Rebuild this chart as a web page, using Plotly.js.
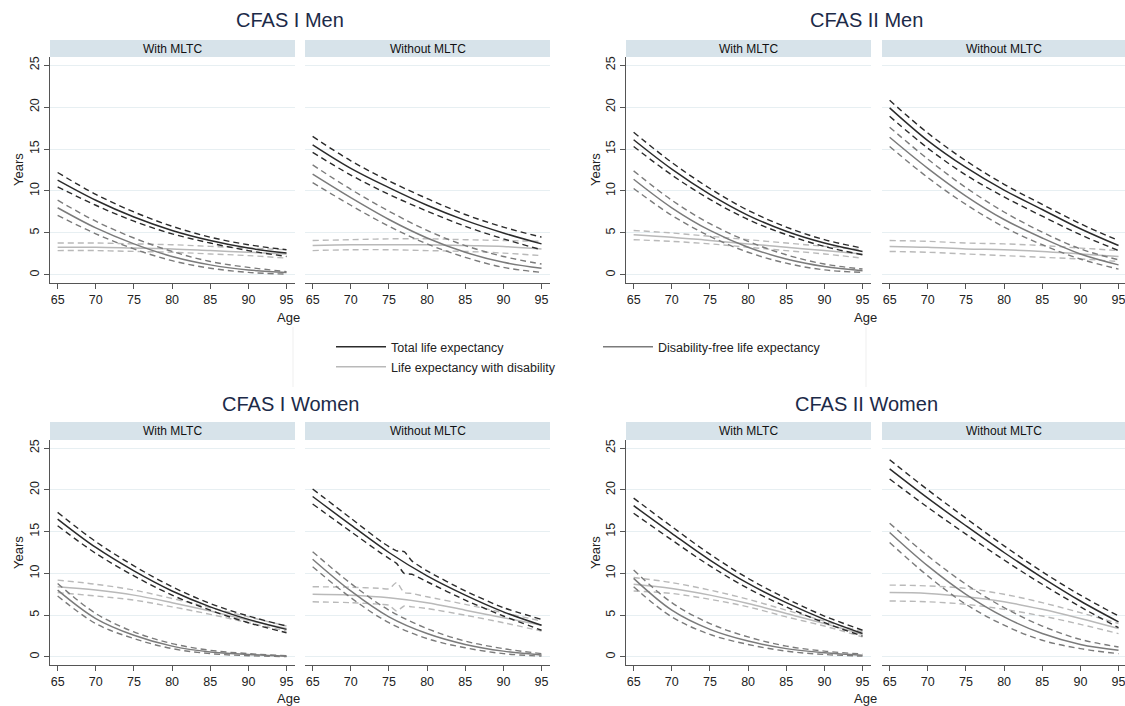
<!DOCTYPE html>
<html><head><meta charset="utf-8">
<script src="https://cdn.plot.ly/plotly-3.0.1.min.js"></script>
<style>html,body{margin:0;padding:0;background:#fff}#chart{width:1125px;height:706px}</style>
</head><body><div id="chart"></div>
<script>
// ---------- DATA ----------
const ages = [65, 70, 75, 80, 85, 90, 95];
const agesFine = [65, 70, 74, 75, 76, 77, 78, 80, 85, 90, 95];
const xTicks = [65, 70, 75, 80, 85, 90, 95];
const yTicks = [0, 5, 10, 15, 20, 25];
const groupTitles = ['CFAS I Men', 'CFAS II Men', 'CFAS I Women', 'CFAS II Women'];
const stripLabels = ['With MLTC', 'Without MLTC'];
const seriesNames = ['Total life expectancy', 'Disability-free life expectancy', 'Life expectancy with disability'];

// CFAS I Men - With MLTC
const m1With_TLE    = [11.3, 8.9, 6.9, 5.3, 4.1, 3.2, 2.6];
const m1With_TLE_hi = [12.2, 9.6, 7.5, 5.8, 4.5, 3.6, 3.0];
const m1With_TLE_lo = [10.5, 8.3, 6.4, 4.9, 3.8, 2.9, 2.2];
const m1With_DF     = [8.0, 5.6, 3.7, 2.2, 1.2, 0.6, 0.3];
const m1With_DF_hi  = [8.9, 6.4, 4.4, 2.8, 1.6, 0.9, 0.4];
const m1With_DF_lo  = [7.1, 4.9, 3.1, 1.7, 0.8, 0.3, 0.1];
const m1With_WD     = [3.3, 3.3, 3.2, 3.1, 2.9, 2.7, 2.5];
const m1With_WD_hi  = [3.8, 3.8, 3.7, 3.6, 3.4, 3.2, 3.0];
const m1With_WD_lo  = [2.9, 2.9, 2.8, 2.7, 2.5, 2.3, 2.0];
// CFAS I Men - Without MLTC
const m1Wo_TLE    = [15.5, 12.7, 10.4, 8.3, 6.5, 5.0, 3.7];
const m1Wo_TLE_hi = [16.5, 13.6, 11.2, 9.1, 7.2, 5.7, 4.5];
const m1Wo_TLE_lo = [14.6, 11.9, 9.6, 7.6, 5.8, 4.3, 3.0];
const m1Wo_DF     = [12.0, 9.2, 6.6, 4.4, 2.7, 1.5, 0.8];
const m1Wo_DF_hi  = [13.1, 10.2, 7.6, 5.3, 3.5, 2.2, 1.3];
const m1Wo_DF_lo  = [11.0, 8.3, 5.8, 3.7, 2.1, 0.9, 0.3];
const m1Wo_WD     = [3.5, 3.6, 3.6, 3.6, 3.5, 3.4, 3.1];
const m1Wo_WD_hi  = [4.1, 4.2, 4.3, 4.3, 4.2, 4.1, 4.0];
const m1Wo_WD_lo  = [2.9, 3.0, 3.0, 2.9, 2.8, 2.6, 2.3];
// CFAS II Men - With MLTC
const m2With_TLE    = [16.1, 12.6, 9.6, 7.1, 5.2, 3.8, 2.8];
const m2With_TLE_hi = [17.0, 13.4, 10.3, 7.7, 5.7, 4.2, 3.2];
const m2With_TLE_lo = [15.3, 11.9, 9.0, 6.6, 4.8, 3.4, 2.4];
const m2With_DF     = [11.4, 8.0, 5.3, 3.3, 1.9, 1.0, 0.5];
const m2With_DF_hi  = [12.4, 8.9, 6.1, 4.0, 2.4, 1.3, 0.7];
const m2With_DF_lo  = [10.3, 7.1, 4.6, 2.7, 1.4, 0.6, 0.3];
const m2With_WD     = [4.8, 4.5, 4.1, 3.7, 3.3, 2.9, 2.5];
const m2With_WD_hi  = [5.3, 5.0, 4.6, 4.2, 3.8, 3.4, 3.0];
const m2With_WD_lo  = [4.2, 4.0, 3.7, 3.3, 2.9, 2.5, 2.0];
// CFAS II Men - Without MLTC
const m2Wo_TLE    = [19.9, 16.0, 12.8, 10.1, 7.8, 5.5, 3.5];
const m2Wo_TLE_hi = [20.8, 16.9, 13.6, 10.8, 8.4, 6.1, 4.1];
const m2Wo_TLE_lo = [18.9, 15.1, 11.9, 9.3, 7.0, 4.8, 2.9];
const m2Wo_DF     = [16.4, 12.7, 9.4, 6.6, 4.4, 2.5, 1.2];
const m2Wo_DF_hi  = [17.6, 13.8, 10.4, 7.5, 5.1, 3.1, 1.8];
const m2Wo_DF_lo  = [15.3, 11.6, 8.4, 5.7, 3.6, 1.9, 0.7];
const m2Wo_WD     = [3.4, 3.3, 3.1, 3.0, 2.8, 2.5, 2.2];
const m2Wo_WD_hi  = [4.1, 4.0, 3.8, 3.7, 3.5, 3.2, 2.9];
const m2Wo_WD_lo  = [2.8, 2.7, 2.5, 2.3, 2.1, 1.9, 1.6];
// CFAS I Women - With MLTC
const w1With_TLE    = [16.5, 13.1, 10.3, 7.9, 6.0, 4.5, 3.3];
const w1With_TLE_hi = [17.3, 13.8, 10.9, 8.4, 6.4, 4.9, 3.7];
const w1With_TLE_lo = [15.7, 12.4, 9.7, 7.4, 5.6, 4.1, 2.9];
const w1With_DF     = [8.0, 4.6, 2.6, 1.3, 0.6, 0.3, 0.1];
const w1With_DF_hi  = [8.8, 5.2, 3.0, 1.6, 0.8, 0.4, 0.15];
const w1With_DF_lo  = [7.3, 4.0, 2.2, 1.0, 0.4, 0.15, 0.05];
const w1With_WD     = [8.4, 8.0, 7.4, 6.5, 5.5, 4.4, 3.4];
const w1With_WD_hi  = [9.2, 8.7, 8.0, 7.0, 5.9, 4.8, 3.7];
const w1With_WD_lo  = [7.7, 7.3, 6.8, 6.0, 5.1, 4.1, 3.1];
// CFAS I Women - Without MLTC (some CIs read on the finer agesFine grid)
const w1Wo_TLE    = [19.2, 15.8, 12.5, 9.7, 7.4, 5.4, 3.8];
const w1Wo_TLE_hi = [20.1, 16.6, 13.8, 13.2, 12.7, 12.6, 11.5, 10.3, 7.9, 5.9, 4.5];
const w1Wo_TLE_lo = [18.3, 15.0, 12.4, 11.8, 11.2, 10.0, 9.9, 9.0, 6.8, 4.9, 3.2];
const w1Wo_DF     = [11.7, 7.9, 4.8, 2.8, 1.5, 0.7, 0.25];
const w1Wo_DF_hi  = [12.6, 8.8, 5.6, 3.4, 1.9, 1.0, 0.4];
const w1Wo_DF_lo  = [10.8, 7.1, 4.1, 2.2, 1.1, 0.4, 0.1];
const w1Wo_WD     = [7.5, 7.4, 7.1, 6.5, 5.6, 4.7, 3.8];
const w1Wo_WD_hi  = [8.4, 8.35, 8.2, 8.15, 8.9, 7.7, 7.6, 7.2, 6.3, 5.3, 4.3];
const w1Wo_WD_lo  = [6.6, 6.5, 6.3, 6.2, 5.5, 6.1, 6.0, 5.8, 5.0, 4.1, 3.1];
// CFAS II Women - With MLTC
const w2With_TLE    = [18.1, 14.8, 11.6, 8.8, 6.5, 4.5, 2.8];
const w2With_TLE_hi = [19.0, 15.6, 12.3, 9.4, 7.0, 4.9, 3.2];
const w2With_TLE_lo = [17.2, 14.0, 10.9, 8.2, 6.0, 4.1, 2.5];
const w2With_DF     = [9.4, 5.6, 3.3, 1.9, 1.0, 0.5, 0.2];
const w2With_DF_hi  = [10.4, 6.5, 4.0, 2.4, 1.3, 0.7, 0.35];
const w2With_DF_lo  = [8.4, 4.8, 2.7, 1.5, 0.7, 0.3, 0.1];
const w2With_WD     = [8.7, 8.2, 7.4, 6.4, 5.2, 4.0, 2.7];
const w2With_WD_hi  = [9.5, 8.9, 8.0, 6.9, 5.6, 4.3, 3.0];
const w2With_WD_lo  = [7.9, 7.6, 6.9, 6.0, 4.8, 3.7, 2.4];
// CFAS II Women - Without MLTC
const w2Wo_TLE    = [22.5, 19.0, 15.7, 12.5, 9.5, 6.7, 4.2];
const w2Wo_TLE_hi = [23.6, 20.0, 16.6, 13.3, 10.2, 7.4, 4.9];
const w2Wo_TLE_lo = [21.3, 17.9, 14.7, 11.6, 8.7, 6.0, 3.5];
const w2Wo_DF     = [14.9, 10.9, 7.5, 4.8, 2.8, 1.5, 0.8];
const w2Wo_DF_hi  = [16.0, 12.1, 8.7, 5.9, 3.7, 2.1, 1.2];
const w2Wo_DF_lo  = [13.7, 9.7, 6.3, 3.8, 2.0, 1.0, 0.4];
const w2Wo_WD     = [7.7, 7.6, 7.2, 6.6, 5.7, 4.6, 3.4];
const w2Wo_WD_hi  = [8.6, 8.5, 8.2, 7.5, 6.5, 5.3, 4.0];
const w2Wo_WD_lo  = [6.7, 6.6, 6.3, 5.7, 4.9, 3.9, 2.8];

// ---------- FIGURE ----------
const W = 1125, H = 706;
const px = p => p / W, py = p => 1 - p / H;

const panels = [
  [m1With_TLE, m1With_TLE_hi, m1With_TLE_lo, m1With_DF, m1With_DF_hi, m1With_DF_lo, m1With_WD, m1With_WD_hi, m1With_WD_lo],
  [m1Wo_TLE, m1Wo_TLE_hi, m1Wo_TLE_lo, m1Wo_DF, m1Wo_DF_hi, m1Wo_DF_lo, m1Wo_WD, m1Wo_WD_hi, m1Wo_WD_lo],
  [m2With_TLE, m2With_TLE_hi, m2With_TLE_lo, m2With_DF, m2With_DF_hi, m2With_DF_lo, m2With_WD, m2With_WD_hi, m2With_WD_lo],
  [m2Wo_TLE, m2Wo_TLE_hi, m2Wo_TLE_lo, m2Wo_DF, m2Wo_DF_hi, m2Wo_DF_lo, m2Wo_WD, m2Wo_WD_hi, m2Wo_WD_lo],
  [w1With_TLE, w1With_TLE_hi, w1With_TLE_lo, w1With_DF, w1With_DF_hi, w1With_DF_lo, w1With_WD, w1With_WD_hi, w1With_WD_lo],
  [w1Wo_TLE, w1Wo_TLE_hi, w1Wo_TLE_lo, w1Wo_DF, w1Wo_DF_hi, w1Wo_DF_lo, w1Wo_WD, w1Wo_WD_hi, w1Wo_WD_lo],
  [w2With_TLE, w2With_TLE_hi, w2With_TLE_lo, w2With_DF, w2With_DF_hi, w2With_DF_lo, w2With_WD, w2With_WD_hi, w2With_WD_lo],
  [w2Wo_TLE, w2Wo_TLE_hi, w2Wo_TLE_lo, w2Wo_DF, w2Wo_DF_hi, w2Wo_DF_lo, w2Wo_WD, w2Wo_WD_hi, w2Wo_WD_lo]
];

// panel pixel boxes: [x0, x1] and [ytop, ybottom]
const colBoxes = [[50, 295], [305, 550], [626, 871], [882, 1125]];
const rowBoxes = [[57, 283], [440, 665]];
const stripRows = [[40, 57], [422, 440]];
const pxPerYear = 7.63;

const colors = ['#2b2b2b', '#7b7b7b', '#b9b9b9'];
const legendIds = ['legend', 'legend2', 'legend3'];
const traces = [];
const layout = {
  width: W, height: H, margin: {l: 0, r: 0, t: 0, b: 0},
  paper_bgcolor: '#ffffff', plot_bgcolor: '#ffffff',
  font: {family: 'Liberation Sans, Arial, sans-serif', color: '#222'},
  showlegend: true, hovermode: false,
  shapes: [], annotations: []
};

panels.forEach((arrs, i) => {
  const g = Math.floor(i / 2);          // group 0..3
  const col = (g % 2) * 2 + (i % 2);   // column 0..3
  const row = Math.floor(g / 2);
  const s = i === 0 ? '' : String(i + 1);
  const [cx0, cx1] = colBoxes[col];
  const [ry0, ry1] = rowBoxes[row];
  const isLeft = i % 2 === 0;

  // draw light first, dark last
  [2, 1, 0].forEach(k => {
    [1, 2, 0].forEach(j => {
      const y = arrs[k * 3 + j];
      const x = y.length === agesFine.length ? agesFine : ages;
      const solid = j === 0;
      traces.push({
        type: 'scatter', mode: 'lines', x: x, y: y,
        xaxis: 'x' + s, yaxis: 'y' + s,
        name: seriesNames[k],
        line: {color: colors[k], width: solid ? 1.5 : 1.4, shape: 'spline', smoothing: y.length > 7 ? 0.6 : 1,
               dash: solid ? 'solid' : '6px,4px'},
        showlegend: i === 0 && solid,
        legend: legendIds[k]
      });
    });
  });

  const x0v = 64;
  layout['xaxis' + s] = {
    domain: [px(cx0), px(cx1)],
    range: [x0v, x0v + (cx1 - cx0) / pxPerYear],
    anchor: 'y' + s,
    tickvals: xTicks, ticks: 'outside', ticklen: 5, tickcolor: '#555', tickwidth: 1,
    ticklabeloverflow: 'allow',
    showline: true, linecolor: '#555', linewidth: 1,
    showgrid: false, zeroline: false,
    tickfont: {size: 12.5, color: '#222'}, fixedrange: true
  };
  layout['yaxis' + s] = {
    domain: [py(ry1), py(ry0)],
    range: [-0.96, 25.96],
    anchor: 'x' + s,
    tickvals: yTicks, tickangle: -90,
    showgrid: true, gridcolor: '#e7eff2', gridwidth: 1, zeroline: false,
    showline: isLeft, linecolor: '#555', linewidth: 1,
    ticks: isLeft ? 'outside' : '', ticklen: 5, tickcolor: '#555',
    showticklabels: isLeft, tickfont: {size: 12.5, color: '#222'}, fixedrange: true
  };

  // strip
  const [sy0, sy1] = stripRows[row];
  layout.shapes.push({type: 'rect', xref: 'paper', yref: 'paper',
    x0: px(cx0), x1: px(cx1), y0: py(sy1), y1: py(sy0),
    fillcolor: '#d7e3ea', line: {width: 0}, layer: 'below'});
  layout.annotations.push({xref: 'paper', yref: 'paper', x: px((cx0 + cx1) / 2), y: py((sy0 + sy1) / 2),
    text: stripLabels[i % 2], showarrow: false, xanchor: 'center', yanchor: 'middle',
    font: {size: 12, color: '#111'}});
});

// group titles, axis titles
const titlePos = [[290, 20], [866, 20], [290, 404], [866, 404]];
const yTitlePos = [[18, 170], [595, 170], [18, 553], [595, 553]];
const ageTitlePos = [[288, 317], [865, 317], [288, 698], [865, 698]];
groupTitles.forEach((t, g) => {
  layout.annotations.push({xref: 'paper', yref: 'paper', x: px(titlePos[g][0]), y: py(titlePos[g][1]),
    text: t, showarrow: false, xanchor: 'center', yanchor: 'middle',
    font: {size: 20, color: '#1c2a48'}});
  layout.annotations.push({xref: 'paper', yref: 'paper', x: px(yTitlePos[g][0]), y: py(yTitlePos[g][1]),
    text: 'Years', showarrow: false, textangle: -90, xanchor: 'center', yanchor: 'middle',
    font: {size: 13, color: '#222'}});
  layout.annotations.push({xref: 'paper', yref: 'paper', x: px(ageTitlePos[g][0]), y: py(ageTitlePos[g][1]),
    text: 'Age', showarrow: false, xanchor: 'center', yanchor: 'middle',
    font: {size: 13, color: '#222'}});
});

// legend area: faint vertical edges
[293, 866].forEach(xe => {
  layout.shapes.push({type: 'line', xref: 'paper', yref: 'paper',
    x0: px(xe), x1: px(xe), y0: py(387), y1: py(327), line: {color: '#efefef', width: 1}});
});

const legBase = {xanchor: 'left', yanchor: 'middle', itemwidth: 50, bgcolor: 'rgba(0,0,0,0)', borderwidth: 0,
  font: {size: 12.5, color: '#222'}};
layout.legend  = Object.assign({}, legBase, {x: px(331), y: py(347)});
layout.legend2 = Object.assign({}, legBase, {x: px(598), y: py(347)});
layout.legend3 = Object.assign({}, legBase, {x: px(331), y: py(367)});

Plotly.newPlot('chart', traces, layout, {staticPlot: true, displayModeBar: false});
</script>
</body></html>
